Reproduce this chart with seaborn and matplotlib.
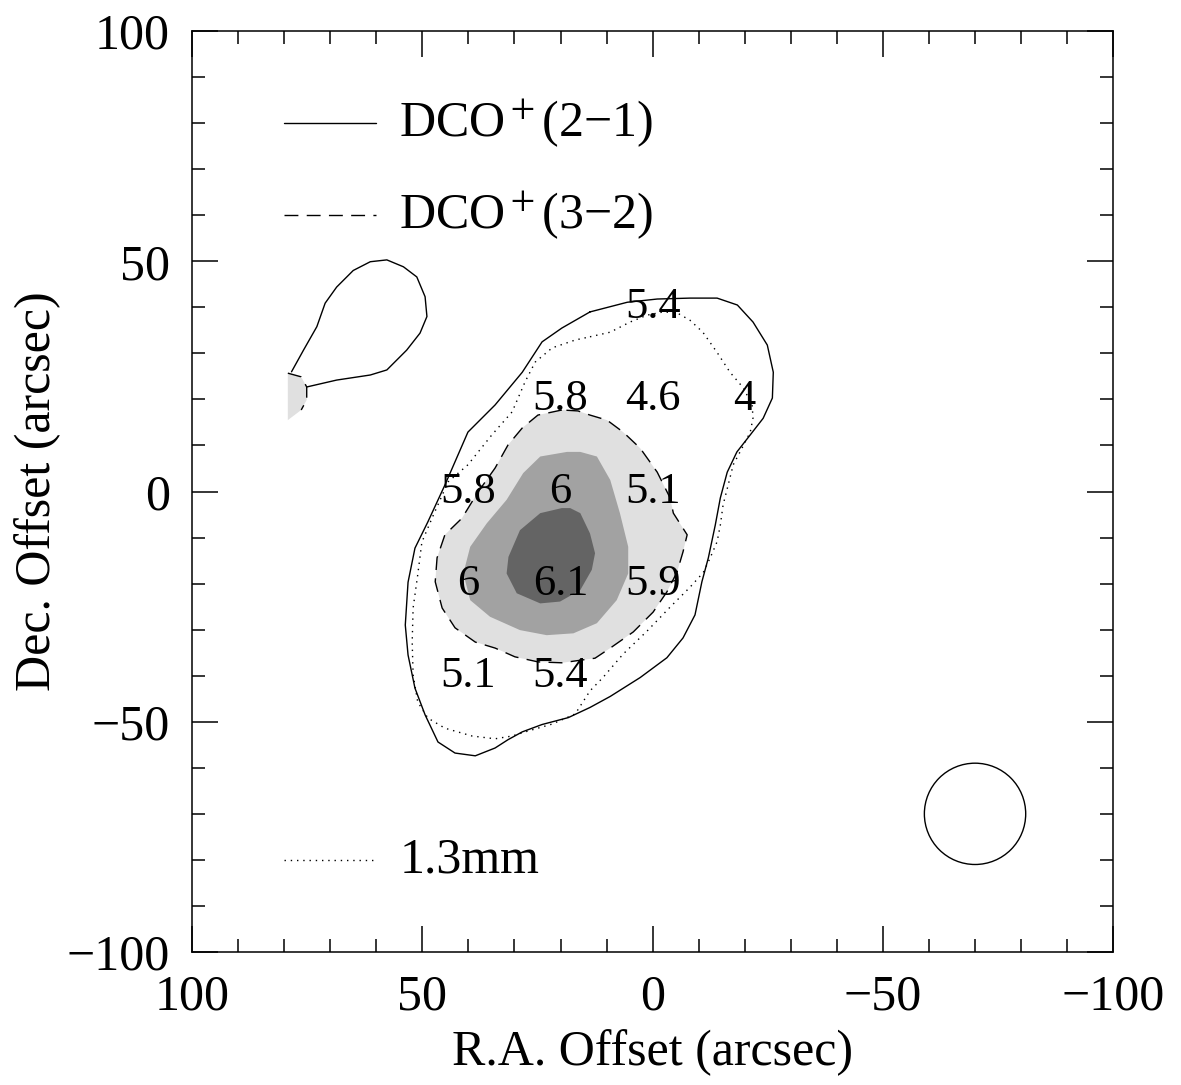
import matplotlib
matplotlib.use("Agg")
import matplotlib.pyplot as plt
import seaborn as sns
import pandas as pd

# offsets in arcsec (R.A., Dec.)
# DCO+(2-1) outer contour, solid
dco21_ra = [13.6, 5.5, -1.0, -8.1, -14.0, -18.4, -21.8, -24.9, -26.2, -26.0, -24.0,
            -21.2, -18.3, -16.2, -14.7, -13.6, -12.1, -10.7, -9.2, -6.6, -3.1, 2.7,
            9.2, 13.6, 18.3, 24.0, 28.3, 31.4, 34.2, 38.5, 42.9, 46.6, 49.4, 51.6,
            53.1, 53.7, 53.1, 51.6, 48.8, 45.1, 40.1, 34.2, 28.3, 24.0, 19.7, 13.6]
dco21_dec = [39.0, 41.1, 41.8, 42.0, 42.0, 40.5, 36.8, 31.8, 25.9, 20.3, 15.9,
             12.3, 8.6, 4.2, -1.4, -7.3, -14.4, -19.6, -26.8, -31.8, -36.1, -40.4,
             -44.5, -46.9, -49.1, -50.6, -52.2, -53.9, -55.7, -57.4, -56.8, -54.4, -48.5, -42.7,
             -35.5, -29.0, -19.7, -12.3, -6.6, 1.4, 12.9, 18.8, 25.9, 32.5, 35.5, 39.0]

# DCO+(2-1) blob in the north-east, solid (open at the map edge)
blob_ra = [78.4, 75.8, 72.9, 71.1, 68.6, 65.0, 61.3, 57.7, 54.1, 51.2, 49.4, 49.0,
           50.5, 53.4, 57.7, 61.3, 68.6, 75.1]
blob_dec = [26.0, 30.7, 35.8, 40.9, 44.4, 48.0, 49.9, 50.3, 48.8, 46.6, 42.3, 38.0,
            34.4, 30.7, 26.4, 25.3, 24.2, 22.7]

# 1.3mm continuum contour, dotted
mm_ra = [13.6, 9.2, 4.9, 1.2, -2.3, -5.3, -8.1, -10.9, -14.0, -16.8, -19.7, -21.6,
         -21.8, -21.2, -19.4, -17.5, -16.4, -15.3, -14.7, -14.0, -12.5, -11.0, -8.1,
         -3.8, 1.2, 6.4, 10.7, 13.6, 16.8, 21.8, 27.0, 30.5, 34.2, 39.2, 45.1, 48.8,
         51.0, 52.0, 52.2, 52.0, 51.0, 50.1, 47.9, 44.4, 40.1, 34.9, 30.5, 27.7, 25.5,
         21.8, 16.8, 13.6]
mm_dec = [33.6, 34.6, 36.8, 38.3, 39.0, 38.8, 37.2, 34.6, 30.2, 25.9, 22.5, 18.8,
          16.0, 12.9, 9.4, 5.8, 1.4, -2.9, -7.3, -10.9, -14.4, -17.6, -20.8,
          -25.1, -30.3, -35.3, -40.3, -43.3, -48.3, -50.5, -52.0, -53.1, -53.7, -53.1, -51.4, -49.2,
          -45.7, -39.8, -32.7, -25.3, -18.1, -11.0, -5.8, 2.1, 5.8, 12.3, 17.3, 23.8, 28.1,
          31.2, 32.9, 33.6]

# DCO+(3-2) levels (grey fills), lowest level has a dashed outline
lev1_ra = [19.7, 24.9, 28.3, 31.4, 34.2, 37.9, 41.4, 45.1, 46.8, 47.2, 45.7, 42.9,
           38.5, 34.2, 29.9, 24.9, 19.7, 12.5, 9.2, 4.2, -0.1, -3.1, -5.3, -6.6, -7.5,
           -4.5, -3.8, -1.0, 2.7, 6.4, 9.9, 13.6, 16.2, 19.7]
lev1_dec = [17.7, 16.6, 13.8, 10.1, 5.1, -0.1, -5.8, -9.4, -14.4, -19.6, -25.3, -29.6,
            -32.7, -34.0, -35.9, -37.0, -37.2, -36.2, -34.0, -30.5, -26.2, -21.8, -17.5, -13.1, -9.4,
            -4.7, -1.4, 4.2, 9.4, 12.9, 15.5, 16.6, 17.5, 17.7]
lev1b_ra = [79.2, 76.3, 75.1, 75.1, 76.3, 79.2]
lev1b_dec = [25.7, 24.9, 22.7, 19.9, 17.7, 15.5]

lev2_ra = [18.6, 24.4, 28.1, 31.7, 36.0, 39.6, 41.1, 39.6, 35.3, 28.8, 23.0, 17.2,
           12.1, 7.8, 5.3, 5.3, 7.1, 9.2, 12.1, 15.7]
lev2_dec = [8.6, 7.6, 4.0, -1.8, -6.9, -12.0, -17.8, -23.6, -27.2, -30.1, -31.2, -30.8,
            -28.6, -23.6, -17.8, -12.0, -4.7, 2.5, 7.6, 8.6]

lev3_ra = [19.7, 24.4, 28.8, 31.3, 31.7, 29.5, 24.4, 20.1, 15.7, 13.2, 12.5, 13.6, 15.7, 17.9]
lev3_dec = [-3.6, -4.7, -8.4, -14.2, -17.8, -22.1, -24.3, -23.9, -21.4, -17.0, -13.4, -9.1, -4.7, -3.6]

# values written on the 20" grid
lab_ra = [0, 20, 0, -20, 40, 20, 0, 40, 20, 0, 40, 20]
lab_dec = [40, 20, 20, 20, 0, 0, 0, -20, -20, -20, -40, -40]
lab_txt = ["5.4", "5.8", "4.6", "4", "5.8", "6", "5.1", "6", "6.1", "5.9", "5.1", "5.4"]

# beam
beam_ra, beam_dec, beam_r = -70, -70, 11

sns.set_style("ticks")
plt.rcParams['font.family'] = ['Liberation Serif', 'DejaVu Serif']
plt.rcParams['mathtext.fontset'] = 'stix'
plt.rcParams['text.color'] = 'black'
plt.rcParams['axes.labelcolor'] = 'black'
plt.rcParams['axes.edgecolor'] = 'black'
plt.rcParams['xtick.color'] = 'black'
plt.rcParams['ytick.color'] = 'black'
plt.rcParams['lines.solid_joinstyle'] = 'round'
plt.rcParams['lines.dash_joinstyle'] = 'round'

fig = plt.figure(figsize=(11.81, 10.85), dpi=100)
ax = fig.add_axes([0.1626, 0.1226, 0.78, 0.8488])

ax.fill(lev1_ra, lev1_dec, color="#e0e0e0", lw=0, zorder=1)
ax.fill(lev1b_ra, lev1b_dec, color="#e0e0e0", lw=0, zorder=1)
ax.fill(lev2_ra, lev2_dec, color="#a2a2a2", lw=0, zorder=2)
ax.fill(lev3_ra, lev3_dec, color="#646464", lw=0, zorder=3)

dash = (0, (10, 6))
dot = (0, (1, 3.5))
lw = 1.0
sns.lineplot(x=lev1_ra, y=lev1_dec, sort=False, estimator=None, color="black",
             lw=lw, linestyle=dash, ax=ax, zorder=4)
sns.lineplot(x=lev1b_ra[:-1], y=lev1b_dec[:-1], sort=False, estimator=None, color="black",
             lw=lw, linestyle=dash, ax=ax, zorder=4)
sns.lineplot(x=dco21_ra, y=dco21_dec, sort=False, estimator=None, color="black",
             lw=lw, ax=ax, zorder=4)
sns.lineplot(x=blob_ra, y=blob_dec, sort=False, estimator=None, color="black",
             lw=lw, ax=ax, zorder=4)
sns.lineplot(x=mm_ra, y=mm_dec, sort=False, estimator=None, color="black",
             lw=lw, linestyle=dot, ax=ax, zorder=4)

ax.add_patch(plt.Circle((beam_ra, beam_dec), beam_r, fill=False, color="black", lw=lw))

for x, y, t in zip(lab_ra, lab_dec, lab_txt):
    ax.text(x, y, t, ha="center", va="center", fontsize=32, zorder=6)

# legend
ax.plot([80, 60], [80, 80], color="black", lw=lw)
ax.text(55, 80, "DCO$^+$(2\u22121)", fontsize=36, va="center")
ax.plot([80, 60], [60, 60], color="black", lw=lw, linestyle=dash)
ax.text(55, 60, "DCO$^+$(3\u22122)", fontsize=36, va="center")
ax.plot([80, 60], [-80, -80], color="black", lw=lw, linestyle=dot)
ax.text(55, -80, "1.3mm", fontsize=36, va="center")

ax.set_xlim(100, -100)
ax.set_ylim(-100, 100)
ax.set_xticks([100, 50, 0, -50, -100])
ax.set_yticks([-100, -50, 0, 50, 100])
ax.set_xticks(range(-90, 100, 10), minor=True)
ax.set_yticks(range(-90, 100, 10), minor=True)
ax.tick_params(which="both", direction="in", top=True, right=True, width=1.1,
               labelsize=36, pad=16)
ax.tick_params(which="major", length=19)
ax.tick_params(which="minor", length=9.5)
ax.set_xlabel("R.A. Offset (arcsec)", fontsize=36, labelpad=6)
ax.set_ylabel("Dec. Offset (arcsec)", fontsize=36)
for s in ax.spines.values():
    s.set_linewidth(1.1)

fig.savefig("out.png", dpi=100)
